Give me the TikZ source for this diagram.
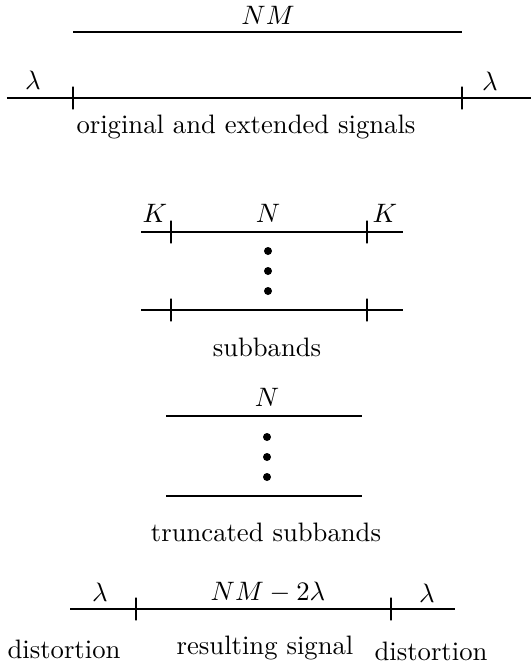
\documentclass[tikz,border=0pt]{standalone}
\begin{document}
\begin{tikzpicture}[x=0.375pt, y=-0.375pt, line width=0.65pt,
    every node/.style={font=\normalsize},
    tick/.style={draw, rectangle, inner sep=0pt, minimum width=0pt, minimum height=8.5pt},
    dot/.style={circle, fill, inner sep=0pt, minimum size=3pt}]
    \useasboundingbox (0,0) rectangle (531,666);

    % Original and extended signals
    \node (nm) at (268,15) {$NM$};
    \coordinate (o1) at (73,32);
    \coordinate (o2) at (462,32);
    \draw (o1) -- (o2);

    \coordinate (e1) at (7,98);
    \coordinate (e2) at (531,98);
    \node[tick] (et1) at (73,98) {};
    \node[tick] (et2) at (462,98) {};
    \draw (e1) -- (et1) -- (et2) -- (e2);
    \node (el1) at (33,80) {$\lambda$};
    \node (el2) at (490,81) {$\lambda$};
    \node (ecap) at (246,127) {original and extended signals};

    % Subbands
    \coordinate (s1) at (141,232);
    \coordinate (s2) at (403,232);
    \node[tick] (st1) at (171,232) {};
    \node[tick] (st2) at (367,232) {};
    \draw (s1) -- (st1) -- (st2) -- (s2);
    \node (sk1) at (155,213) {$K$};
    \node (sn) at (268,213) {$N$};
    \node (sk2) at (385,213) {$K$};
    \node[dot] (sd1) at (268,251) {};
    \node[dot] (sd2) at (268,271) {};
    \node[dot] (sd3) at (268,291) {};
    \coordinate (b1) at (141,310);
    \coordinate (b2) at (403,310);
    \node[tick] (bt1) at (171,310) {};
    \node[tick] (bt2) at (367,310) {};
    \draw (b1) -- (bt1) -- (bt2) -- (b2);
    \node (scap) at (267,347) {subbands};

    % Truncated subbands
    \node (tn) at (267,397) {$N$};
    \coordinate (t1) at (166,416);
    \coordinate (t2) at (362,416);
    \draw (t1) -- (t2);
    \node[dot] (td1) at (267,437) {};
    \node[dot] (td2) at (267,457) {};
    \node[dot] (td3) at (267,477) {};
    \coordinate (u1) at (166,496);
    \coordinate (u2) at (362,496);
    \draw (u1) -- (u2);
    \node (tcap) at (266,532) {truncated subbands};

    % Resulting signal
    \coordinate (r1) at (70,609);
    \coordinate (r2) at (455,609);
    \node[tick] (rt1) at (136,609) {};
    \node[tick] (rt2) at (391,609) {};
    \draw (r1) -- (rt1) -- (rt2) -- (r2);
    \node (rl1) at (100,592) {$\lambda$};
    \node (rm) at (268,592) {$NM-2\lambda$};
    \node (rl2) at (427,593) {$\lambda$};
    \node (rcap1) at (64,649) {distortion};
    \node (rcap2) at (265,648) {resulting signal};
    \node (rcap3) at (431,651) {distortion};
\end{tikzpicture}
\end{document}
